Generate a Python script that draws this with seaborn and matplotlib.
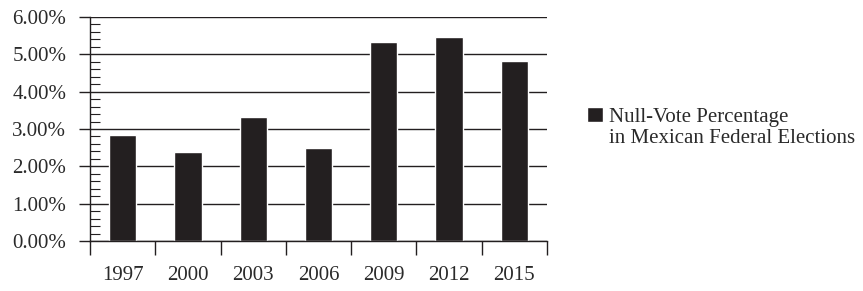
import matplotlib
matplotlib.use("Agg")
import matplotlib.pyplot as plt
import seaborn as sns
import pandas as pd
from matplotlib.ticker import MultipleLocator, FuncFormatter

years = ["1997", "2000", "2003", "2006", "2009", "2012", "2015"]
null_vote_pct = [2.84, 2.38, 3.32, 2.49, 5.33, 5.46, 4.82]
label_line1 = "Null-Vote Percentage"
label_line2 = "in Mexican Federal Elections"

sns.set_theme(style="white")
plt.rcParams['font.family'] = ['Liberation Serif', 'DejaVu Serif']

df = pd.DataFrame({"year": years, "pct": null_vote_pct})

fig = plt.figure(figsize=(8.63, 2.91), dpi=100)
ax = fig.add_axes([90/863, 1-241/291, (547-90)/863, (241-17)/291])

bar_color = "#231f20"
text_color = "#2a2a2a"
fs = 15
sns.barplot(data=df, x="year", y="pct", color=bar_color, width=0.42,
            saturation=1, ax=ax, label=label_line1)

ax.set_xlim(-0.5, len(years) - 0.5)
ax.set_ylim(0, 6)
ax.set_xlabel("")
ax.set_ylabel("")

for s in ["top", "right"]:
    ax.spines[s].set_visible(False)
for s in ["left", "bottom"]:
    ax.spines[s].set_visible(True)
    ax.spines[s].set_color(bar_color)
    ax.spines[s].set_linewidth(1.0)

ax.yaxis.set_major_locator(MultipleLocator(1))
ax.yaxis.set_minor_locator(MultipleLocator(0.2))
ax.yaxis.set_major_formatter(FuncFormatter(lambda v, p: f"{v:.2f}%"))
ax.grid(axis="y", which="major", color=bar_color, linewidth=1.0)
ax.set_axisbelow(True)
ax.tick_params(axis="y", which="major", direction="out", length=8, width=1.0,
               color=bar_color, left=True, pad=9, labelsize=fs, labelcolor=text_color)
ax.tick_params(axis="y", which="minor", direction="in", length=7, width=0.8,
               color=bar_color, left=True)

ax.set_xticks(range(len(years)))
ax.set_xticklabels(years)
ax.set_xticks([i - 0.5 for i in range(len(years) + 1)], minor=True)
ax.tick_params(axis="x", which="major", length=0, pad=18, labelsize=fs, labelcolor=text_color)
ax.tick_params(axis="x", which="minor", direction="out", length=10, width=1.0,
               color=bar_color, bottom=True)

leg = ax.legend(loc="upper left", bbox_to_anchor=(587/863, 1-107/291),
                bbox_transform=fig.transFigure, frameon=False, fontsize=fs,
                handlelength=0.75, handleheight=0.75, handletextpad=0.32,
                borderpad=0, borderaxespad=0, labelcolor=text_color)

fig.text(609/863, 1-143/291, label_line2, fontsize=fs, color=text_color,
         ha="left", va="baseline")

fig.savefig("out.png", dpi=100)
